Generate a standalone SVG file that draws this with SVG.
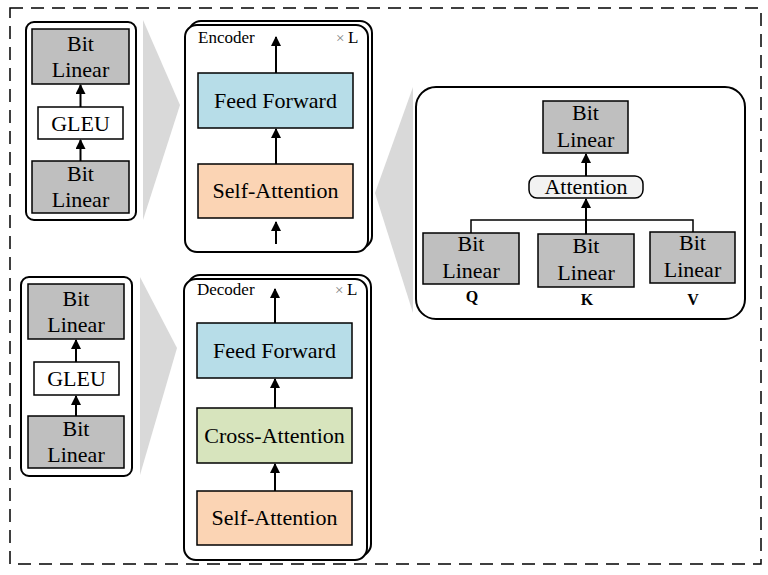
<svg xmlns="http://www.w3.org/2000/svg" width="768" height="575" viewBox="0 0 768 575" font-family="'Liberation Serif','Times New Roman',serif">
<style>
text{font-family:"Liberation Serif","Times New Roman",serif;fill:#000}
.t{font-size:22px;text-anchor:middle}
.s{font-size:17px}
.x{font-size:15px;fill:#7f7f7f}
.q{font-size:16px;font-weight:bold;text-anchor:middle}
.bl{fill:#bfbfbf;stroke:#000;stroke-width:1.5}
.wh{fill:#fff;stroke:#000;stroke-width:1.5}
.ff{fill:#b7dde8;stroke:#000;stroke-width:1.5}
.sa{fill:#fbd4b4;stroke:#000;stroke-width:1.5}
.ca{fill:#d7e4bd;stroke:#000;stroke-width:1.5}
.box{fill:#fff;stroke:#000;stroke-width:2}
.wedge{fill:#d9d9d9}
.c{fill:none;stroke:#000;stroke-width:2}
.c2{fill:none;stroke:#000;stroke-width:1.5}
</style>
<defs>
<marker id="ah" viewBox="0 0 10 10" refX="9" refY="5" markerWidth="5" markerHeight="5" markerUnits="strokeWidth" orient="auto">
<path d="M0,0 L10,5 L0,10 z" fill="#000"/>
</marker>
</defs>
<rect width="768" height="575" fill="#fff"/>
<rect x="10" y="8" width="751" height="556" fill="none" stroke="#000" stroke-width="1.5" stroke-dasharray="13,8"/>

<polygon class="wedge" points="143,20 180,105 143,220"/>
<polygon class="wedge" points="140,277 177,348 140,475"/>
<polygon class="wedge" points="413,87 375,193 413,313"/>

<g id="ffn-top">
<rect class="box" x="26" y="22" width="110" height="198" rx="8"/>
<g id="ffn-top-bl2"><rect class="bl" x="32" y="29" width="97" height="55"/><text class="t" x="80.5" y="51">Bit</text><text class="t" x="80.5" y="77">Linear</text></g>
<g id="ffn-top-gleu"><rect class="wh" x="38" y="107" width="85" height="32"/><text class="t" x="80.5" y="131">GLEU</text></g>
<g id="ffn-top-bl1"><rect class="bl" x="32" y="161" width="97" height="52"/><text class="t" x="80.5" y="181">Bit</text><text class="t" x="80.5" y="207">Linear</text></g>
</g>

<g id="ffn-bottom">
<rect class="box" x="21" y="277" width="111" height="199" rx="8"/>
<g id="ffn-bot-bl2"><rect class="bl" x="28" y="284" width="96" height="55"/><text class="t" x="76" y="306">Bit</text><text class="t" x="76" y="332">Linear</text></g>
<g id="ffn-bot-gleu"><rect class="wh" x="34" y="362" width="85" height="33"/><text class="t" x="76.5" y="386">GLEU</text></g>
<g id="ffn-bot-bl1"><rect class="bl" x="28" y="416" width="96" height="52"/><text class="t" x="76" y="436">Bit</text><text class="t" x="76" y="462">Linear</text></g>
</g>

<g id="encoder">
<rect class="box" x="189" y="21" width="183" height="227" rx="12"/>
<rect class="box" x="185" y="25" width="183" height="227" rx="12"/>
<text class="s" x="198" y="43">Encoder</text>
<text class="x" x="336" y="43">×</text>
<text class="s" x="348" y="43">L</text>
<g id="enc-ff"><rect class="ff" x="198" y="73" width="155" height="55"/><text class="t" x="275.5" y="108">Feed Forward</text></g>
<g id="enc-sa"><rect class="sa" x="198" y="164" width="155" height="54"/><text class="t" x="275.5" y="198">Self-Attention</text></g>
</g>

<g id="decoder">
<rect class="box" x="188" y="275" width="183" height="281" rx="12"/>
<rect class="box" x="184" y="279" width="183" height="281" rx="12"/>
<text class="s" x="197" y="295">Decoder</text>
<text class="x" x="335" y="295">×</text>
<text class="s" x="347" y="295">L</text>
<g id="dec-ff"><rect class="ff" x="197" y="323" width="155" height="55"/><text class="t" x="274.5" y="358">Feed Forward</text></g>
<g id="dec-ca"><rect class="ca" x="197" y="408" width="155" height="55"/><text class="t" x="274.5" y="443">Cross-Attention</text></g>
<g id="dec-sa"><rect class="sa" x="197" y="491" width="155" height="54"/><text class="t" x="274.5" y="525">Self-Attention</text></g>
</g>

<g id="attention-detail">
<rect class="box" x="416" y="87" width="329" height="232" rx="20"/>
<g id="att-out"><rect class="bl" x="543" y="101" width="85" height="52"/><text class="t" x="585.5" y="120">Bit</text><text class="t" x="585.5" y="147">Linear</text></g>
<g id="att-core"><rect x="529" y="176" width="114" height="22" rx="8" fill="#f2f2f2" stroke="#000" stroke-width="1.5"/><text class="t" x="586" y="194">Attention</text></g>
<g id="att-q"><rect class="bl" x="423" y="233" width="96" height="51"/><text class="t" x="471" y="251">Bit</text><text class="t" x="471" y="278">Linear</text><text class="q" x="472" y="302">Q</text></g>
<g id="att-k"><rect class="bl" x="538" y="234" width="96" height="53"/><text class="t" x="586" y="253">Bit</text><text class="t" x="586" y="280">Linear</text><text class="q" x="587" y="305">K</text></g>
<g id="att-v"><rect class="bl" x="650" y="232" width="85" height="51"/><text class="t" x="692.5" y="250">Bit</text><text class="t" x="692.5" y="277">Linear</text><text class="q" x="693" y="305">V</text></g>
</g>

<g id="connectors">
<line class="c" x1="80.5" y1="107" x2="80.5" y2="85" marker-end="url(#ah)"/>
<line class="c" x1="80.5" y1="161" x2="80.5" y2="140" marker-end="url(#ah)"/>
<line class="c" x1="76" y1="362" x2="76" y2="340" marker-end="url(#ah)"/>
<line class="c" x1="76" y1="416" x2="76" y2="396" marker-end="url(#ah)"/>
<line class="c" x1="276" y1="73" x2="276" y2="37" marker-end="url(#ah)"/>
<line class="c" x1="276" y1="164" x2="276" y2="129" marker-end="url(#ah)"/>
<line class="c" x1="276" y1="244" x2="276" y2="222" marker-end="url(#ah)"/>
<line class="c" x1="275" y1="323" x2="275" y2="289" marker-end="url(#ah)"/>
<line class="c" x1="275" y1="408" x2="275" y2="379" marker-end="url(#ah)"/>
<line class="c" x1="275" y1="491" x2="275" y2="464" marker-end="url(#ah)"/>
<line class="c" x1="586" y1="176" x2="586" y2="154" marker-end="url(#ah)"/>
<line class="c" x1="586" y1="234" x2="586" y2="199" marker-end="url(#ah)"/>
<polyline class="c2" points="471,233 471,220 693,220 693,232"/>
</g>
</svg>
